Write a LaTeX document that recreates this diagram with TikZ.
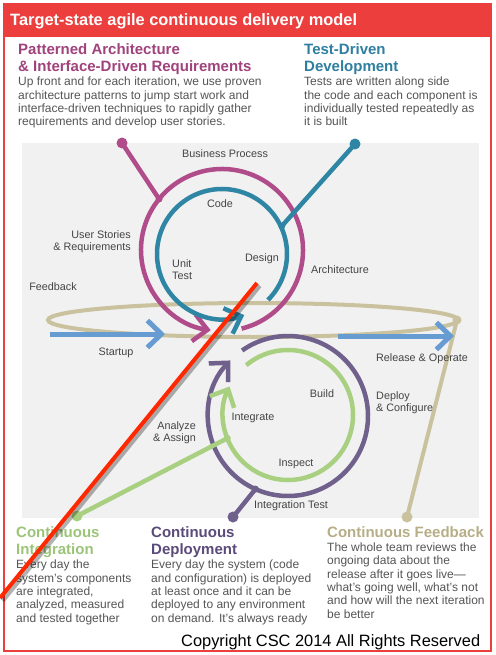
\documentclass[tikz,border=0pt]{standalone}
\usepackage{fontspec}
\setsansfont{Liberation Sans}
\usetikzlibrary{arrows.meta,calc}

\definecolor{hdrred}{RGB}{236,62,60}
\definecolor{archmag}{RGB}{176,76,138}
\definecolor{archhead}{RGB}{160,66,124}
\definecolor{tddteal}{RGB}{46,134,164}
\definecolor{tddhead}{RGB}{46,127,160}
\definecolor{cdpurple}{RGB}{112,96,140}
\definecolor{cdhead}{RGB}{91,75,123}
\definecolor{cigreen}{RGB}{168,208,128}
\definecolor{cihead}{RGB}{156,196,121}
\definecolor{cfbeige}{RGB}{202,194,158}
\definecolor{cfhead}{RGB}{183,174,135}
\definecolor{flowblue}{RGB}{102,156,210}
\definecolor{panelgray}{RGB}{241,241,241}
\definecolor{bodygray}{RGB}{85,85,85}
\definecolor{labelgray}{RGB}{68,68,68}
\definecolor{strikered}{RGB}{255,40,0}

\tikzset{
  loopline/.style={line width=4.5pt},
  barb/.style={-{Straight Barb[length=14pt,width=27pt]}},
  pinline/.style={line width=4.5pt,line cap=round},
  pindot/.style={circle,inner sep=0pt,minimum size=11pt},
  heading/.style={anchor=north west,inner sep=0pt,align=left,
    font=\sffamily\bfseries\fontsize{15}{16.5}\selectfont},
  body/.style={anchor=north west,inner sep=0pt,align=left,text=bodygray,
    font=\sffamily\fontsize{12}{13.35}\selectfont},
  lbl/.style={inner sep=0pt,text=labelgray,
    font=\sffamily\fontsize{10.8}{12.4}\selectfont},
}

\begin{document}
\begin{tikzpicture}[x=1pt,y=-1pt,font=\sffamily]
  \useasboundingbox (0,0) rectangle (495,655);

  % Frame and title bar.
  \fill[white] (0,0) rectangle (495,655);
  \fill[hdrred] (3,3) rectangle (492,37);
  \draw[hdrred,line width=2pt] (4,4) rectangle (491,651);
  \node[anchor=base west,inner sep=0pt,text=white,
        font=\sffamily\bfseries\fontsize{16.4}{18}\selectfont] (title) at (10,26)
        {Target-state agile continuous delivery model};

  % Texts at the top.
  \node[heading,text=archhead] (archtitle) at (18,43.5)
        {Patterned Architecture\\\& Interface-Driven Requirements};
  \node[body] (archtext) at (18,77)
        {Up front and for each iteration, we use proven\\
         architecture patterns to jump start work and\\
         interface-driven techniques to rapidly gather\\
         requirements and develop user stories.};
  \node[heading,text=tddhead] (tddtitle) at (304,43.5)
        {Test-Driven\\Development};
  \node[body] (tddtext) at (304,77)
        {Tests are written along side\\
         the code and each component is\\
         individually tested repeatedly as\\
         it is built};

  % Grey panel behind the loops.
  \fill[panelgray] (22,143) rectangle (479,518);

  % Centres of the four loops.
  \coordinate (magc) at (222,250);
  \coordinate (tealc) at (222,254);
  \coordinate (purc) at (288,416);
  \coordinate (grnc) at (288,415);

  % Feedback loop.
  \draw[cfbeige,line width=4pt] (253,320) ellipse [x radius=205, y radius=17];
  \node[pindot,fill=cfbeige,minimum size=9pt] (fbknob) at (457,320) {};
  \node[pindot,fill=cfbeige] (fbdot) at (407,517) {};
  \draw[pinline,cfbeige,line width=4pt] (fbknob.center) -- (fbdot.center);

  % Startup and release arrows.
  \coordinate (startA) at (50,334);
  \coordinate (startB) at (165,334);
  \coordinate (relA) at (338,336);
  \coordinate (relB) at (454,336);
  \draw[flowblue,line width=5pt,barb] (startA) -- (startB);
  \draw[flowblue,line width=5pt,barb] (relA) -- (relB);

  % Architecture loop and test loop.
  \draw[archmag,loopline,barb] (magc) ++(76:81) arc[start angle=76, end angle=-262, radius=81];
  \draw[tddteal,loopline,barb] (tealc) ++(45:65) arc[start angle=45, end angle=-290, radius=65];

  % Deployment loop and integration loop.
  \draw[cdpurple,loopline,barb] (purc) ++(-125:80) arc[start angle=-125, end angle=224, radius=80];
  \draw[cigreen,loopline,barb] (grnc) ++(-130:65) arc[start angle=-130, end angle=206, radius=65];

  % Pins to the texts.
  \node[pindot,fill=archmag] (archdot) at (122,143) {};
  \coordinate (archjoin) at ($(magc)+(-141:81)$);
  \draw[pinline,archmag] (archdot.center) -- (archjoin);
  \fill[archmag] (archjoin) circle (3.5);

  \node[pindot,fill=tddteal] (tdddot) at (355,144) {};
  \coordinate (tddjoin) at ($(tealc)+(-25:66)$);
  \draw[pinline,tddteal] (tdddot.center) -- (tddjoin);
  \fill[tddteal] (tddjoin) circle (3.5);

  \node[pindot,fill=cigreen] (cidot) at (77,516) {};
  \coordinate (cijoin) at ($(grnc)+(159:65)$);
  \draw[pinline,cigreen] (cidot.center) -- (cijoin);
  \fill[cigreen] (cijoin) circle (3.5);

  \node[pindot,fill=cdpurple] (cddot) at (233,517) {};
  \coordinate (cdjoin) at ($(purc)+(114:80)$);
  \draw[pinline,cdpurple] (cddot.center) -- (cdjoin);
  \fill[cdpurple] (cdjoin) circle (3.5);

  % Labels round the loops.
  \node[lbl,anchor=base] (bizproc) at (225,158) {Business Process};
  \node[lbl,anchor=base] (code) at (220,207) {Code};
  \node[lbl,anchor=north east,align=right] (stories) at (131,230.5) {User Stories\\\& Requirements};
  \node[lbl,anchor=north west,align=left] (unittest) at (172,259) {Unit\\Test};
  \node[lbl,anchor=base] (design) at (262,261.5) {Design};
  \node[lbl,anchor=base] (archlbl) at (340,273) {Architecture};
  \node[lbl,anchor=base] (feedback) at (53,290) {Feedback};
  \node[lbl,anchor=base] (startup) at (116,355) {Startup};
  \node[lbl,anchor=base] (release) at (422,361) {Release \& Operate};
  \node[lbl,anchor=base] (build) at (322,397) {Build};
  \node[lbl,anchor=base] (integrate) at (253,420) {Integrate};
  \node[lbl,anchor=base] (inspect) at (296,466.5) {Inspect};
  \node[lbl,anchor=base] (inttest) at (291,508) {Integration Test};
  \node[lbl,anchor=north west,align=left] (deploy) at (376,391.5) {Deploy\\\& Configure};
  \node[lbl,anchor=north east,align=right] (analyze) at (196,421) {Analyze\\\& Assign};

  % Texts at the bottom.
  \node[heading,text=cihead] (cititle) at (16,526.5) {Continuous\\Integration};
  \node[body] (citext) at (16,560)
        {Every day the\\
         system’s components\\
         are integrated,\\
         analyzed, measured\\
         and tested together};
  \node[heading,text=cdhead] (cdtitle) at (151,526.5) {Continuous\\Deployment};
  \node[body] (cdtext) at (151,560)
        {Every day the system (code\\
         and configuration) is deployed\\
         at least once and it can be\\
         deployed to any environment\\
         on demand. It’s always ready};
  \node[heading,text=cfhead] (cftitle) at (327,526.5) {Continuous Feedback};
  \node[body] (cftext) at (327,542.5)
        {The whole team reviews the\\
         ongoing data about the\\
         release after it goes live—\\
         what’s going well, what’s not\\
         and how will the next iteration\\
         be better};
  \node[anchor=base west,inner sep=0pt,
        font=\sffamily\fontsize{16.4}{18}\selectfont] (copyright) at (181,646.5)
        {Copyright CSC 2014 All Rights Reserved};

  % Red stroke across the picture.
  \coordinate (strikeA) at (257,283);
  \coordinate (strikeB) at (0,598);
  \draw[black,opacity=0.3,line width=5pt] ($(strikeA)+(2.5,2.5)$) -- ($(strikeB)+(2.5,2.5)$);
  \draw[strikered,line width=4pt] (strikeA) -- (strikeB);

\end{tikzpicture}
\end{document}
